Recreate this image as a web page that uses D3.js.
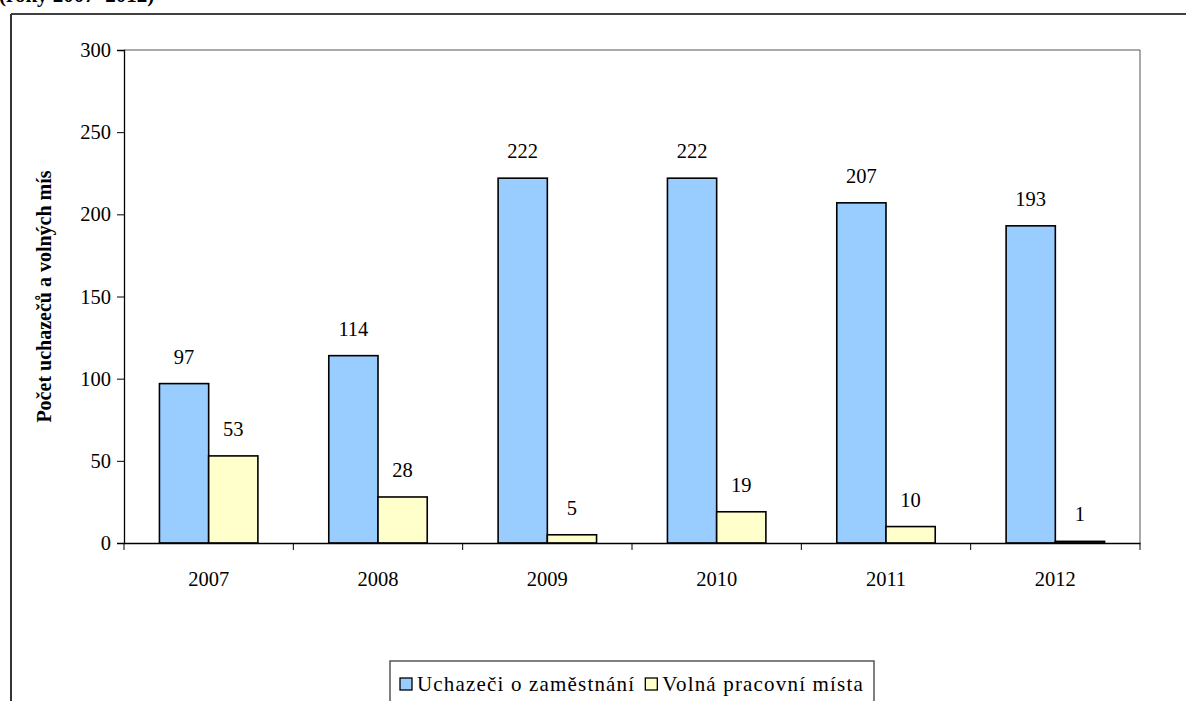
<!DOCTYPE html>
<html>
<head>
<meta charset="utf-8">
<script src="https://cdn.jsdelivr.net/npm/d3@7"></script>
<style>
  body { margin: 0; background: #fff; }
  svg text { font-family: "Liberation Serif", "Times New Roman", serif; fill: #000; }
</style>
</head>
<body>
<svg id="chart" width="1186" height="701"></svg>
<script>
// data
const years = ["2007", "2008", "2009", "2010", "2011", "2012"];
const seriesNames = ["Uchazeči o zaměstnání", "Volná pracovní místa"];
const uchazeci = [97, 114, 222, 222, 207, 193];
const volnaMista = [53, 28, 5, 19, 10, 1];
const yTicks = [0, 50, 100, 150, 200, 250, 300];
const colors = ["#99ccff", "#ffffcc"];

const svg = d3.select("#chart");
const serif = "'Liberation Serif', 'Times New Roman', serif";
const fontSize = 20.5;

const plot = {left: 124, right: 1140, top: 50, bottom: 543};

// outer frame (cut by the window)
svg.append("text")
    .attr("x", -1).attr("y", 2)
    .attr("font-size", 21).attr("font-weight", "bold")
    .text("(roky 2007–2012)");
svg.append("line")
    .attr("x1", 11).attr("x2", 1186).attr("y1", 14).attr("y2", 14)
    .attr("stroke", "#000").attr("stroke-width", 1.5);
svg.append("line")
    .attr("x1", 11).attr("x2", 11).attr("y1", 14).attr("y2", 701)
    .attr("stroke", "#333").attr("stroke-width", 2);

const x = d3.scaleBand()
    .domain(years)
    .range([plot.left, plot.right]);

const xInner = d3.scaleBand()
    .domain([0, 1])
    .range([0, x.bandwidth()])
    .paddingOuter(0.72)
    .paddingInner(0);

const y = d3.scaleLinear()
    .domain([0, 300])
    .range([plot.bottom, plot.top]);

// plot area border (top and right)
svg.append("path")
    .attr("d", `M${plot.left},${plot.top}H${plot.right}V${plot.bottom}`)
    .attr("fill", "none")
    .attr("stroke", "#555")
    .attr("stroke-width", 1);

const data = years.map((yr, i) => ({year: yr, values: [uchazeci[i], volnaMista[i]]}));

const groups = svg.append("g").selectAll("g")
    .data(data)
    .join("g")
    .attr("transform", d => `translate(${x(d.year)},0)`);

groups.selectAll("rect")
    .data(d => d.values.map((v, k) => ({k: k, v: v})))
    .join("rect")
    .attr("x", d => xInner(d.k))
    .attr("y", d => y(d.v))
    .attr("width", xInner.bandwidth())
    .attr("height", d => y(0) - y(d.v))
    .attr("fill", d => colors[d.k])
    .attr("stroke", "#000")
    .attr("stroke-width", 1.6);

groups.selectAll("text")
    .data(d => d.values.map((v, k) => ({k: k, v: v})))
    .join("text")
    .attr("x", d => xInner(d.k) + xInner.bandwidth() / 2)
    .attr("y", d => y(d.v) - 20)
    .attr("text-anchor", "middle")
    .attr("font-size", fontSize)
    .text(d => d.v);

// y axis
const yAxis = d3.axisLeft(y).tickValues(yTicks).tickSize(7).tickPadding(6);
const gy = svg.append("g")
    .attr("transform", `translate(${plot.left},0)`)
    .call(yAxis);
gy.attr("font-family", serif);
gy.select(".domain").attr("stroke", "#000").attr("stroke-width", 1.3);
gy.selectAll(".tick line").attr("stroke", "#000");
gy.selectAll(".tick text").attr("font-size", fontSize);

// x axis
const xAxis = d3.axisBottom(x).tickSize(0).tickPadding(28);
const gx = svg.append("g")
    .attr("transform", `translate(0,${plot.bottom})`)
    .call(xAxis);
gx.attr("font-family", serif);
gx.select(".domain").attr("stroke", "#000").attr("stroke-width", 1.3);
gx.selectAll(".tick text").attr("font-size", fontSize);

// boundary ticks between categories
const bounds = years.map(yr => x(yr)).concat([x.range()[1]]);
svg.append("g").selectAll("line")
    .data(bounds)
    .join("line")
    .attr("x1", d => d).attr("x2", d => d)
    .attr("y1", plot.bottom).attr("y2", plot.bottom + 7)
    .attr("stroke", "#000");

// y axis title
svg.append("text")
    .attr("transform", `translate(51,${(plot.top + plot.bottom) / 2}) rotate(-90)`)
    .attr("text-anchor", "middle")
    .attr("font-size", 20)
    .attr("font-weight", "bold")
    .text("Počet uchazečů a volných mís");

// legend: box centred under the plot, items fill it
const legendW = 484, legendTop = 661, pad = 10, itemGap = 10;
const legend = svg.append("g")
    .attr("transform", `translate(${(plot.left + plot.right) / 2 - legendW / 2},${legendTop})`);
legend.append("rect")
    .attr("x", 0).attr("y", 0)
    .attr("width", legendW).attr("height", 50)
    .attr("fill", "#fff")
    .attr("stroke", "#555")
    .attr("stroke-width", 1.5);

const items = legend.selectAll("g.item")
    .data(seriesNames)
    .join("g")
    .attr("class", "item");
items.append("rect")
    .attr("y", 17)
    .attr("width", 12).attr("height", 12)
    .attr("fill", (d, i) => colors[i])
    .attr("stroke", "#000")
    .attr("stroke-width", 1.3);
const labels = items.append("text")
    .attr("x", 17).attr("y", 30)
    .attr("font-size", 21)
    .text(d => d);

// the original's legend text runs a little wide: spread letters to fill the box
const textW = d3.sum(labels.nodes(), n => n.getComputedTextLength());
const nChars = d3.sum(seriesNames, s => s.length);
const spare = legendW - 2 * pad - itemGap - 2 * 17 - textW;
labels.attr("letter-spacing", Math.max(0, spare / nChars));

const widths = items.nodes().map(n => n.getBBox().width);
let cx = pad;
items.attr("transform", (d, i) => {
    const t = `translate(${cx},0)`;
    cx += widths[i] + itemGap;
    return t;
});
</script>
</body>
</html>
